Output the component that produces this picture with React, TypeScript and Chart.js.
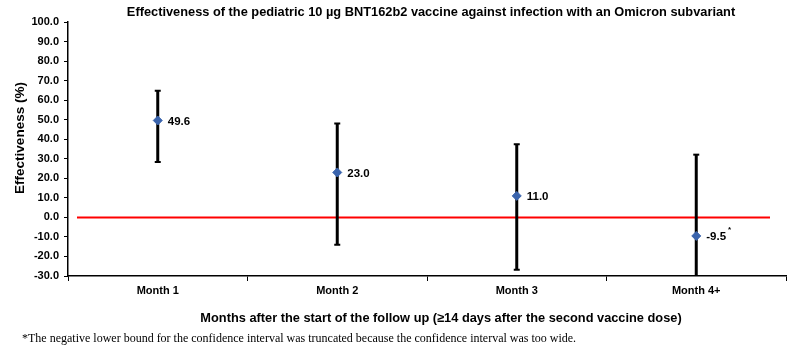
import React, { useEffect, useRef } from "react";
import { Chart, registerables } from "chart.js";

Chart.register(...registerables);

const categories = ["Month 1", "Month 2", "Month 3", "Month 4+"];
const effectiveness = [49.6, 23.0, 11.0, -9.5];
const ciUpper = [64.8, 48.0, 37.4, 32.1];
const ciLower = [28.4, -14.0, -26.8, -30.0];
const valueLabels = ["49.6", "23.0", "11.0", "-9.5"];
const labelMarks = ["", "", "", "*"];
const yTickMin = -30;
const yTickMax = 100;
const yTickStep = 10;

const chartTitle =
  "Effectiveness of the pediatric 10 µg BNT162b2 vaccine against infection with an Omicron subvariant";
const yTitle = "Effectiveness (%)";
const xTitle =
  "Months after the start of the follow up (≥14 days after the second vaccine dose)";
const footnote =
  "*The negative lower bound for the confidence interval was truncated because the confidence interval was too wide.";

const FONT = "Arial, 'Liberation Sans', sans-serif";

const decorPlugin = {
  id: "decor",
  beforeDatasetsDraw(chart: any) {
    const { ctx, chartArea, scales } = chart;
    const x = scales.x;
    const y = scales.y;
    ctx.save();
    const y0 = y.getPixelForValue(0);
    ctx.strokeStyle = "#ff0000";
    ctx.lineWidth = 2;
    ctx.beginPath();
    ctx.moveTo(chartArea.left + 9, y0);
    ctx.lineTo(chartArea.right - 16, y0);
    ctx.stroke();
    ctx.strokeStyle = "#000";
    categories.forEach((_, i) => {
      const px = x.getPixelForValue(i);
      const top = y.getPixelForValue(ciUpper[i]);
      const bot = y.getPixelForValue(ciLower[i]);
      ctx.lineWidth = 3;
      ctx.beginPath();
      ctx.moveTo(px, top);
      ctx.lineTo(px, bot);
      ctx.stroke();
      ctx.lineWidth = 2;
      ctx.beginPath();
      ctx.moveTo(px - 3, top);
      ctx.lineTo(px + 3, top);
      if (ciLower[i] > yTickMin) {
        ctx.moveTo(px - 3, bot);
        ctx.lineTo(px + 3, bot);
      }
      ctx.stroke();
    });
    ctx.restore();
  },
  afterDatasetsDraw(chart: any) {
    const { ctx, scales } = chart;
    const x = scales.x;
    const y = scales.y;
    ctx.save();
    ctx.fillStyle = "#000";
    ctx.textBaseline = "middle";
    ctx.textAlign = "left";
    categories.forEach((_, i) => {
      const px = x.getPixelForValue(i) + 10;
      const py = y.getPixelForValue(effectiveness[i]) + 1;
      ctx.font = `bold 11.5px ${FONT}`;
      ctx.fillText(valueLabels[i], px, py);
      if (labelMarks[i]) {
        const w = ctx.measureText(valueLabels[i]).width;
        ctx.font = `bold 8px ${FONT}`;
        ctx.fillText(labelMarks[i], px + w + 2, py - 7);
      }
    });
    ctx.restore();
  },
  afterDraw(chart: any) {
    const { ctx, chartArea } = chart;
    ctx.save();
    ctx.fillStyle = "#000";
    ctx.textAlign = "center";
    ctx.textBaseline = "middle";
    ctx.font = `bold 12.8px ${FONT}`;
    ctx.fillText(chartTitle, (chartArea.left + chartArea.right) / 2 + 4, 12);
    ctx.font = `bold 12.8px ${FONT}`;
    ctx.fillText(xTitle, (chartArea.left + chartArea.right) / 2 + 14, 318);
    ctx.translate(20, (chartArea.top + chartArea.bottom) / 2 - 11);
    ctx.rotate(-Math.PI / 2);
    ctx.font = `bold 13.5px ${FONT}`;
    ctx.fillText(yTitle, 0, 0);
    ctx.restore();
  },
};

export default function App() {
  const ref = useRef<HTMLCanvasElement | null>(null);
  useEffect(() => {
    if (!ref.current) return;
    const chart = new Chart(ref.current, {
      type: "line",
      data: {
        labels: categories,
        datasets: [
          {
            data: effectiveness,
            showLine: false,
            pointStyle: "rectRot",
            pointRadius: 4.5,
            pointBackgroundColor: "#3a64ad",
            pointBorderColor: "#3a64ad",
            borderColor: "#3a64ad",
          },
        ],
      },
      options: {
        animation: false,
        responsive: false,
        devicePixelRatio: 1,
        layout: { padding: { left: 0, right: 14, top: 22, bottom: 27 } },
        plugins: {
          legend: { display: false },
          tooltip: { enabled: false },
          title: { display: false },
        },
        scales: {
          x: {
            type: "category",
            offset: true,
            grid: {
              offset: true,
              drawOnChartArea: false,
              drawTicks: true,
              tickLength: 5,
              color: "#000",
            },
            border: { color: "#000", width: 1.5 },
            ticks: {
              color: "#000",
              font: { family: FONT, size: 11, weight: "bold" },
              padding: 3,
              maxRotation: 0,
            },
            afterFit: (s: any) => {
              s.height = 50;
            },
          },
          y: {
            min: yTickMin,
            max: yTickMax,
            grid: {
              drawOnChartArea: false,
              drawTicks: true,
              tickLength: 4,
              color: "#000",
            },
            border: { color: "#000", width: 1.5 },
            ticks: {
              stepSize: yTickStep,
              color: "#000",
              padding: 5,
              font: { family: FONT, size: 11, weight: "bold" },
              callback: (v: any) => Number(v).toFixed(1),
            },
            afterFit: (s: any) => {
              s.width = 68;
            },
          },
        },
      },
      plugins: [decorPlugin],
    } as any);
    return () => chart.destroy();
  }, []);
  return (
    <div
      style={{
        position: "absolute",
        left: 0,
        top: 0,
        width: 800,
        height: 353,
        background: "#fff",
        overflow: "hidden",
      }}
    >
      <canvas ref={ref} width={800} height={353} style={{ display: "block" }} />
      <div
        style={{
          position: "absolute",
          left: 22,
          top: 331,
          fontFamily: "'Liberation Serif', 'Times New Roman', serif",
          fontSize: 12,
          color: "#000",
          whiteSpace: "nowrap",
        }}
      >
        {footnote}
      </div>
    </div>
  );
}
